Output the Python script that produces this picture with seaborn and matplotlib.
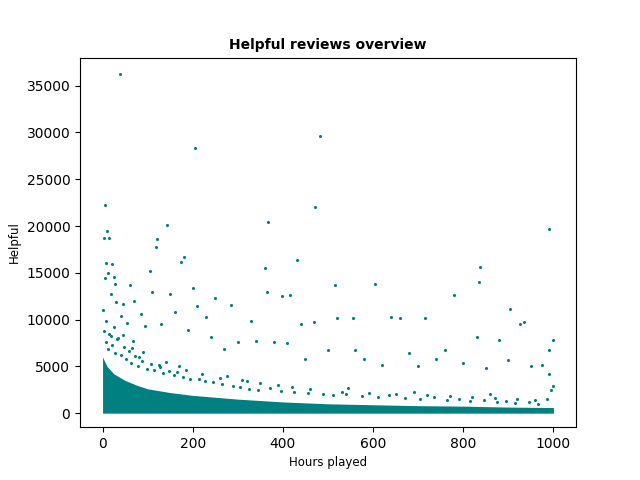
import matplotlib
matplotlib.use("Agg")
import matplotlib.pyplot as plt
import seaborn as sns
import pandas as pd

# Dense band: upper envelope of the solid cloud of reviews
band_hours = [0, 10, 25, 50, 75, 100, 150, 200, 250, 300, 400, 500, 600, 700, 800, 900, 1000]
band_top = [6000, 5000, 4200, 3500, 3000, 2600, 2200, 1900, 1700, 1500, 1200, 1000, 900, 800, 750, 650, 600]

# Individually visible reviews above the band
hours = [38, 205, 483, 472, 5, 367, 143, 990, 10, 3, 15, 120, 118, 180, 175, 432, 838, 105, 360, 8,
         12, 20, 25, 60, 200, 365, 415, 398, 515, 605, 780, 835, 250, 285, 903, 935, 925, 1000, 660, 640,
         555, 715, 440, 470, 520, 760, 880, 830, 975, 990, 45, 70, 85, 30, 150, 160, 95, 240, 300, 340,
         380, 410, 450, 500, 560, 580, 620, 680, 700, 740, 800, 850, 900, 950, 990, 330, 270, 230, 210, 190,
         130, 110, 55, 40, 28, 18, 5, 2, 7, 15, 35, 65, 90, 140, 170, 220, 260, 310, 350, 390,
         420, 460, 530, 590, 650, 720, 770, 820, 870, 920, 960, 1000, 80, 125, 185, 275, 320, 545, 690, 860,
         3, 8, 12, 18, 22, 27, 33, 42, 48, 52, 58, 63, 72, 78, 88, 98, 108, 115, 128, 135,
         148, 158, 165, 178, 195, 215, 228, 245, 265, 290, 305, 325, 345, 372, 395, 425, 455, 490, 510, 540,
         575, 610, 635, 670, 705, 735, 765, 790, 815, 845, 875, 895, 915, 945, 965, 985, 995, 25, 45, 68]
helpful = [36200, 28300, 29600, 22000, 22300, 20400, 20100, 19700, 19500, 18700, 18700, 18600, 17800, 16700, 16200, 16400, 15600, 15200, 15500, 16000,
           15000, 15900, 14500, 13700, 13400, 13000, 12600, 12500, 13700, 13800, 12600, 14000, 12300, 11600, 11100, 9700, 9500, 7800, 10200, 10300,
           10200, 10200, 9500, 9700, 10200, 6800, 7800, 8100, 5200, 6800, 11700, 12000, 10600, 11900, 12700, 10800, 9300, 8100, 7600, 7700,
           7600, 7500, 5800, 6800, 6700, 5800, 5200, 6400, 5000, 5800, 5400, 4800, 5700, 5000, 4200, 9800, 6900, 10300, 11500, 8900,
           9500, 13000, 9600, 10400, 13800, 12700, 14400, 11000, 9800, 8500, 8000, 7000, 6500, 5500, 5000, 4200, 3800, 3500, 3200, 3000,
           2800, 2600, 2300, 2200, 2000, 1900, 1800, 1700, 1600, 1500, 1400, 2900, 6000, 5200, 4600, 4000, 3400, 2700, 2300, 2100,
           8800, 7600, 6900, 8200, 7300, 6400, 7900, 6200, 7100, 5800, 6600, 5400, 6100, 5000, 5600, 4700, 5300, 4600, 4900, 4300,
           4500, 4100, 4400, 3900, 3700, 3600, 3400, 3300, 3100, 2900, 2800, 2600, 2500, 2700, 2400, 2300, 2200, 2100, 1900, 2000,
           1800, 1700, 1900, 1600, 1500, 1700, 1400, 1500, 1300, 1400, 1200, 1300, 1100, 1200, 1000, 1500, 2500, 9200, 8400, 7700]

color = "#008080"
df = pd.DataFrame({"Hours played": hours, "Helpful": helpful})

fig, ax = plt.subplots(figsize=(6.4, 4.8), dpi=100)
ax.fill_between(band_hours, 0, band_top, color=color, linewidth=0)
sns.scatterplot(data=df, x="Hours played", y="Helpful", ax=ax, color=color, s=5, linewidth=0)
ax.set_title("Helpful reviews overview", fontsize=10, fontweight="bold")
ax.set_xlabel("Hours played", fontsize=8.5)
ax.set_ylabel("Helpful", fontsize=8.5)
ax.set_xlim(-50, 1050)
ax.set_ylim(-1500, 38000)
fig.savefig("out.png")
